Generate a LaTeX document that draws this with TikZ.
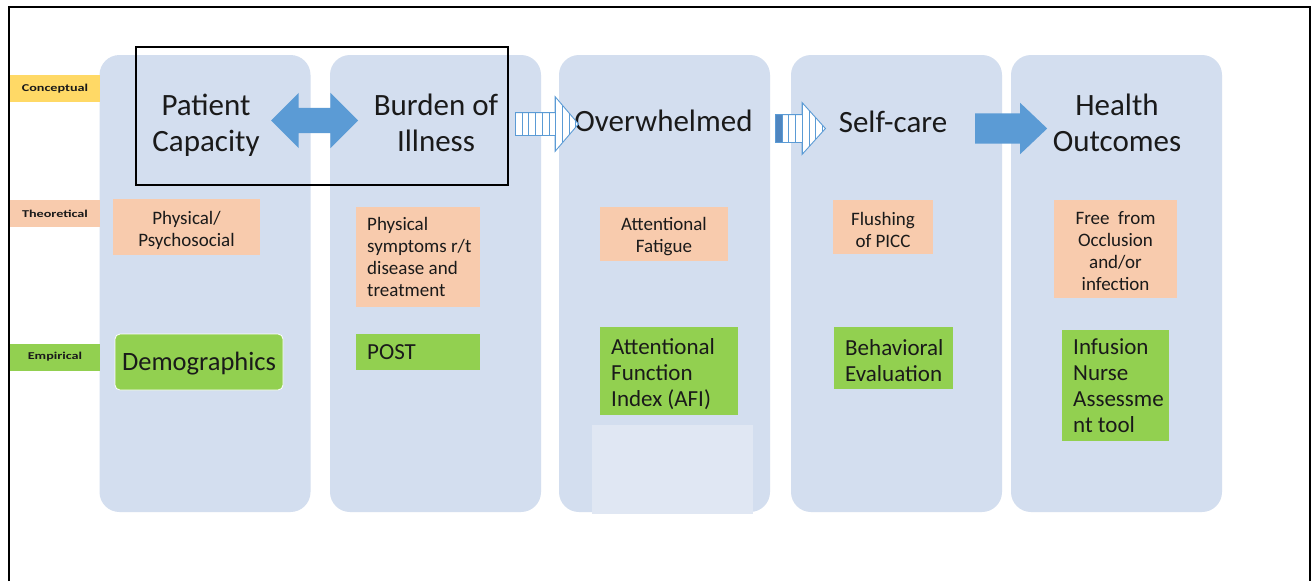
\documentclass[tikz,border=0pt]{standalone}
\usepackage{fontspec}
\setmainfont{Carlito}
\usepackage{graphicx}
\usetikzlibrary{shapes.arrows}
\definecolor{colbg}{HTML}{D3DEEF}
\definecolor{palebg}{HTML}{E0E7F3}
\definecolor{peachc}{HTML}{F8CBAD}
\definecolor{greenc}{HTML}{92D050}
\definecolor{yellowc}{HTML}{FFD966}
\definecolor{arrowblue}{HTML}{5B9BD5}
\definecolor{stripedark}{HTML}{4F86C0}
\definecolor{txt}{HTML}{1A1A1A}
\begin{document}
\begin{tikzpicture}[x=1pt,y=-1pt,
  colbox/.style={fill=colbg, rounded corners=20pt, minimum width=211pt, minimum height=457pt, inner sep=0pt},
  labbox/.style={inner sep=0pt, minimum width=90pt, minimum height=27pt, font=\fontsize{10.5}{12}\selectfont\bfseries, text=txt},
  peachbox/.style={fill=peachc, inner sep=0pt},
  pctext/.style={inner sep=0pt, align=center, text=txt, font=\fontsize{19}{22}\selectfont},
  ptext/.style={inner sep=0pt, align=left, anchor=west, text=txt, font=\fontsize{19}{22}\selectfont},
  greenbox/.style={fill=greenc, inner sep=0pt},
  gtext/.style={inner sep=0pt, align=left, anchor=west, text=txt, font=\fontsize{23}{26}\selectfont},
  hdr/.style={inner sep=0pt, align=center, text=txt, font=\fontsize{31}{36}\selectfont},
  stripe/.style={draw=arrowblue, line width=0.9pt},
  stripedarrow/.style={single arrow, fill=white, draw=arrowblue, line width=0.9pt, inner xsep=0pt, single arrow head indent=0pt, anchor=tail},
  solidarrow/.style={single arrow, fill=arrowblue, inner xsep=0pt, single arrow head indent=0pt, anchor=tail}
]
\useasboundingbox (0,0) rectangle (1316,581);
\fill[white] (0,0) rectangle (1316,581);

% columns
\node[colbox] (c1) at (205,283.5) {};
\node[colbox] (c2) at (435.5,283.5) {};
\node[colbox] (c3) at (664.5,283.5) {};
\node[colbox] (c4) at (896.5,283.5) {};
\node[colbox] (c5) at (1116.5,283.5) {};

% level labels
\node[labbox, fill=yellowc] (lc) at (55,88.5) {\scalebox{1.35}[1]{Conceptual}};
\node[labbox, fill=peachc] (lt) at (55,213.5) {\scalebox{1.35}[1]{Theoretical}};
\node[labbox, fill=greenc] (le) at (55,357) {\scalebox{1.35}[1]{Empirical}};

% pale patch
\node[fill=palebg, inner sep=0pt, minimum width=161pt, minimum height=89pt] (pale) at (672.5,469.5) {};

% theoretical boxes
\node[peachbox, minimum width=147pt, minimum height=56pt] (t1) at (186.5,227) {};
\node[pctext] (t1txt) at (186.5,230) {Physical/\\Psychosocial};
\node[peachbox, minimum width=124pt, minimum height=100pt] (t2) at (418,257) {};
\node[ptext] (t2txt) at (367,257) {Physical\\symptoms r/t\\disease and\\treatment};
\node[peachbox, minimum width=128pt, minimum height=54pt] (t3) at (664,234) {};
\node[pctext] (t3txt) at (664,237) {Attentional\\Fatigue};
\node[peachbox, minimum width=100pt, minimum height=54pt] (t4) at (883,227) {};
\node[pctext] (t4txt) at (883,229.5) {Flushing\\of PICC};
\node[peachbox, minimum width=123pt, minimum height=98pt] (t5) at (1115.5,249) {};
\node[pctext] (t5txt) at (1115.5,251.5) {Free\ \ from\\Occlusion\\and/or\\infection};

% empirical boxes
\node[greenbox, draw=white, line width=0.8pt, rounded corners=5pt, minimum width=168pt, minimum height=56pt] (e1) at (199,362) {};
\node[inner sep=0pt, text=txt, font=\fontsize{26.5}{30}\selectfont] (e1txt) at (199,364) {Demographics};
\node[greenbox, minimum width=124pt, minimum height=36pt] (e2) at (418,352) {};
\node[gtext] (e2txt) at (367,352) {POST};
\node[greenbox, minimum width=138pt, minimum height=88pt] (e3) at (669,371) {};
\node[gtext] (e3txt) at (611,374) {Attentional\\Function\\Index (AFI)};
\node[greenbox, minimum width=119pt, minimum height=62pt] (e4) at (893.5,358) {};
\node[gtext] (e4txt) at (845,360.5) {Behavioral\\Evaluation};
\node[greenbox, minimum width=107pt, minimum height=111pt] (e5) at (1115.5,385.5) {};
\node[gtext] (e5txt) at (1073,386) {Infusion\\Nurse\\Assessme\\nt tool};

% headers
\node[hdr, anchor=base] (h1) at (206,151) {Patient\\Capacity};
\node[hdr, anchor=base] (h2) at (436,151) {Burden of\\Illness};
\node[hdr, anchor=base] (h3) at (663.5,131) {Overwhelmed};
\node[hdr, anchor=base] (h4) at (893,132) {Self-care};
\node[hdr, anchor=base] (h5) at (1117,151) {Health\\Outcomes};

% arrows
\node[double arrow, fill=arrowblue, inner xsep=0pt, inner ysep=12.5pt, minimum height=87pt,
      double arrow head extend=15pt, double arrow head indent=0pt, double arrow tip angle=90] (a12) at (314.5,120.5) {};
\node[stripedarrow, inner ysep=11pt, minimum height=63pt, single arrow head extend=16pt, single arrow tip angle=99,
      path picture={\foreach \i in {0,...,10}{\draw[stripe] ([xshift=\i*6.7pt]path picture bounding box.north west) -- ([xshift=\i*6.7pt]path picture bounding box.south west);}}] (a23) at (515,124) {};
\node[stripedarrow, inner ysep=13.5pt, minimum height=50pt, single arrow head extend=12pt, single arrow tip angle=96,
      path picture={\fill[stripedark] (path picture bounding box.north west) rectangle ([xshift=8pt]path picture bounding box.south west);
        \foreach \i in {0,...,8}{\draw[stripe] ([xshift=\i*6.7pt]path picture bounding box.north west) -- ([xshift=\i*6.7pt]path picture bounding box.south west);}}] (a34) at (775,128.5) {};
\node[solidarrow, inner ysep=15pt, minimum height=72pt, single arrow head extend=10.5pt, single arrow tip angle=87] (a45) at (975,128.5) {};

% selection rectangle
\node[draw=black, line width=2pt, inner sep=0pt, minimum width=372pt, minimum height=138pt] (sel) at (322,116) {};

% outer frame
\draw[line width=2.5pt] (9,581) -- (9,7);
\draw[line width=2pt] (8,7) -- (1310,7) -- (1310,581);
\end{tikzpicture}
\end{document}
